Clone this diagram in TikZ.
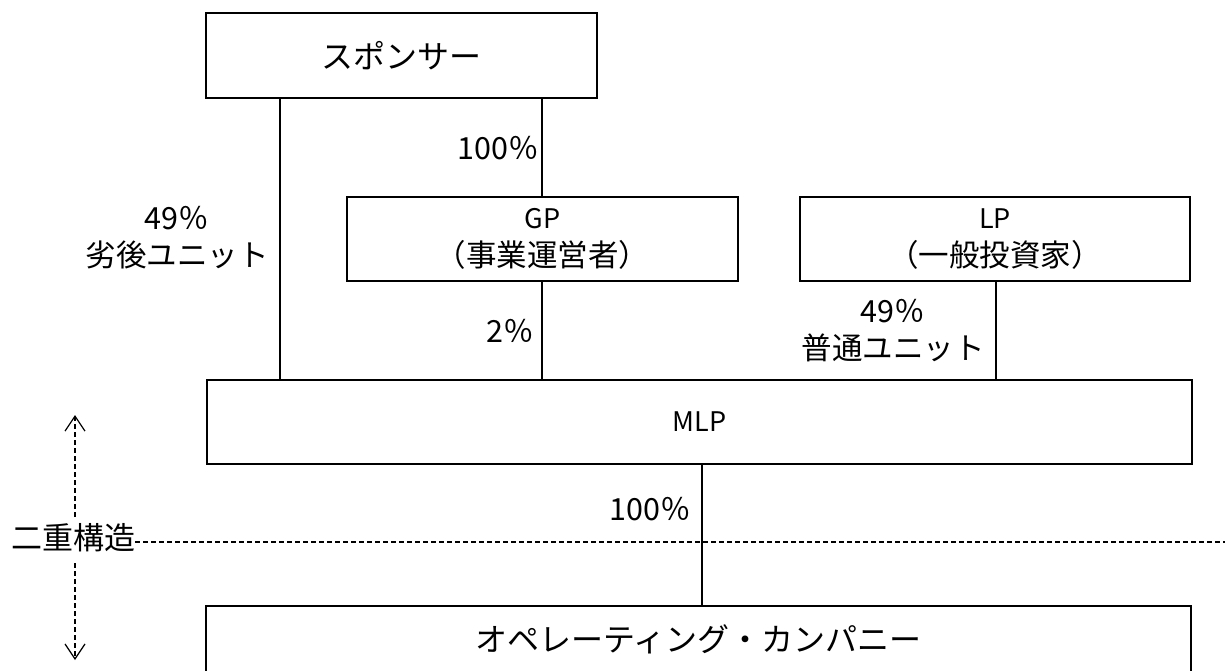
\documentclass[tikz,border=0pt]{standalone}
\usepackage{fontspec}
\setmainfont{Noto Sans CJK JP}
\usetikzlibrary{arrows.meta}
\begin{document}
\begin{tikzpicture}[x=1pt,y=-1pt,
  box/.style={draw,line width=2.2pt,inner sep=0pt,outer sep=0pt,anchor=north west,align=center},
  conn/.style={line width=1.3pt},
  big/.style={font=\fontsize{32}{37}\selectfont},
  mid/.style={font=\fontsize{30.5}{38}\selectfont},
  lbl/.style={font=\fontsize{30.5}{37}\selectfont,inner sep=0pt,align=center},
  dashline/.style={line width=1.2pt,dash pattern=on 5pt off 3pt},
  dasharrow/.style={line width=1.2pt,dash pattern=on 5pt off 3pt,-{Straight Barb[length=15pt,width=20pt,line width=1.2pt]}}]
\useasboundingbox (0,0) rectangle (1225,670);
\clip (0,0) rectangle (1225,670);

% boxes
\node[box,big,minimum width=391pt,minimum height=85pt] (sp) at (206,13) {スポンサー};
\node[box,mid,minimum width=391pt,minimum height=84pt] (gp) at (347,197) {{\fontsize{27}{38}\selectfont GP}\\（事業運営者）};
\node[box,mid,minimum width=390pt,minimum height=84pt] (lp) at (800,197) {{\fontsize{27}{38}\selectfont LP}\\（一般投資家）};
\node[box,minimum width=985pt,minimum height=84pt,font=\fontsize{27}{30}\selectfont] (mlp) at (207,380) {MLP};
\node[box,big,minimum width=985pt,minimum height=66pt] (op) at (206,606) {オペレーティング・カンパニー};

% connector x positions
\coordinate (xa) at (280,0);
\coordinate (xb) at (542,0);
\coordinate (xc) at (996,0);
\coordinate (xd) at (702,0);

\draw[conn] (xa |- sp.south) -- (xa |- mlp.north);
\draw[conn] (xb |- sp.south) -- (xb |- gp.north);
\draw[conn] (xb |- gp.south) -- (xb |- mlp.north);
\draw[conn] (xc |- lp.south) -- (xc |- mlp.north);
\draw[conn] (xd |- mlp.south) -- (xd |- op.north);

% labels
\node[lbl,anchor=east] (p100a) at (539,148) {100％};
\node[lbl] (p49a) at (177,238) {49％\\劣後ユニット};
\node[lbl,anchor=east] (p2) at (534,331) {2％};
\node[lbl] (p49b) at (893,331) {49％\\普通ユニット};
\node[lbl,anchor=east] (p100b) at (691,509) {100％};

% double structure
\node[lbl,font=\fontsize{31}{37}\selectfont] (nj) at (73,538) {二重構造};
\coordinate (dend) at (1225,542);
\draw[dashline] (nj.east |- dend) -- (dend);
\coordinate (aup0) at (75,517);
\coordinate (aup1) at (75,415);
\coordinate (adn0) at (75,563);
\coordinate (adn1) at (75,660);
\draw[dasharrow] (aup0) -- (aup1);
\draw[dasharrow] (adn0) -- (adn1);
\end{tikzpicture}
\end{document}
